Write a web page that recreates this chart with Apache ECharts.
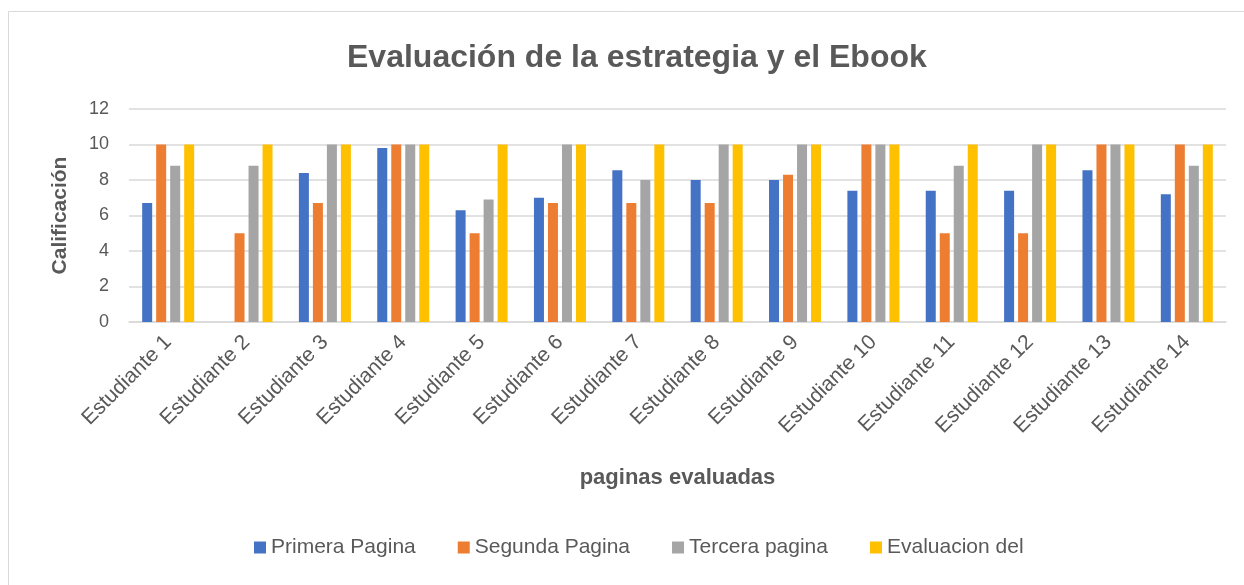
<!DOCTYPE html>
<html>
<head>
<meta charset="utf-8">
<script src="https://cdn.jsdelivr.net/npm/echarts@6/dist/echarts.min.js"></script>
<style>
  html, body { margin: 0; padding: 0; background: #fff; }
  #chart { width: 1244px; height: 585px; }
</style>
</head>
<body>
<div id="chart"></div>
<script>
const categories = ['Estudiante 1', 'Estudiante 2', 'Estudiante 3', 'Estudiante 4', 'Estudiante 5',
  'Estudiante 6', 'Estudiante 7', 'Estudiante 8', 'Estudiante 9', 'Estudiante 10',
  'Estudiante 11', 'Estudiante 12', 'Estudiante 13', 'Estudiante 14']
const primera = [6.7, 0, 8.4, 9.8, 6.3, 7.0, 8.55, 8.0, 8.0, 7.4, 7.4, 7.4, 8.55, 7.2]
const segunda = [10, 5, 6.7, 10, 5, 6.7, 6.7, 6.7, 8.3, 10, 5, 5, 10, 10]
const tercera = [8.8, 8.8, 10, 10, 6.9, 10, 8.0, 10, 10, 10, 8.8, 10, 10, 8.8]
const evaluacion = [10, 10, 10, 10, 10, 10, 10, 10, 10, 10, 10, 10, 10, 10]
const seriesNames = ['Primera Pagina', 'Segunda Pagina', 'Tercera pagina', 'Evaluacion del']
const colors = ['#4472C4', '#ED7D31', '#A5A5A5', '#FFC000']

const font = 'Liberation Sans, Arial, sans-serif'
const textColor = '#595959'

const chart = echarts.init(document.getElementById('chart'))
const dataSets = [primera, segunda, tercera, evaluacion]
const series = []
for (let i = 0; i < dataSets.length; i++) {
  series.push({
    name: seriesNames[i],
    type: 'bar',
    data: dataSets[i],
    barWidth: 10,
    barGap: '40%',
    itemStyle: { color: colors[i] }
  })
}

chart.setOption({
  backgroundColor: '#fff',
  color: colors,
  animation: false,
  graphic: [{
    type: 'rect',
    shape: { x: 8.5, y: 11.5, width: 1260, height: 620 },
    style: { fill: 'none', stroke: '#D9D9D9', lineWidth: 1 },
    silent: true
  }],
  title: {
    text: 'Evaluación de la estrategia y el Ebook',
    left: 342,
    top: 37,
    textStyle: {
      fontFamily: font,
      fontWeight: 'bold',
      fontSize: 32,
      color: textColor
    }
  },
  legend: {
    bottom: 22,
    left: 249,
    icon: 'rect',
    itemWidth: 12,
    itemHeight: 12,
    itemGap: 42,
    data: seriesNames,
    textStyle: { fontFamily: font, fontSize: 21, color: textColor }
  },
  grid: {
    left: 129,
    right: 18,
    top: 109,
    bottom: 263
  },
  xAxis: {
    type: 'category',
    data: categories,
    name: 'paginas evaluadas',
    nameLocation: 'middle',
    nameGap: 145,
    nameTextStyle: { fontFamily: font, fontWeight: 'bold', fontSize: 22, color: textColor },
    axisLine: { lineStyle: { color: '#D9D9D9', width: 1.5 } },
    axisTick: { show: false },
    axisLabel: {
      rotate: 45,
      interval: 0,
      margin: 17,
      fontFamily: font,
      fontSize: 21,
      color: textColor
    }
  },
  yAxis: {
    type: 'value',
    min: 0,
    max: 12,
    interval: 2,
    name: 'Calificación',
    nameLocation: 'middle',
    nameGap: 58,
    nameTextStyle: { fontFamily: font, fontWeight: 'bold', fontSize: 21, color: textColor },
    axisLine: { show: false },
    axisTick: { show: false },
    axisLabel: { margin: 20, fontFamily: font, fontSize: 18, color: textColor },
    splitLine: { lineStyle: { color: '#D9D9D9', width: 1.5 } }
  },
  series: series
})
</script>
</body>
</html>
